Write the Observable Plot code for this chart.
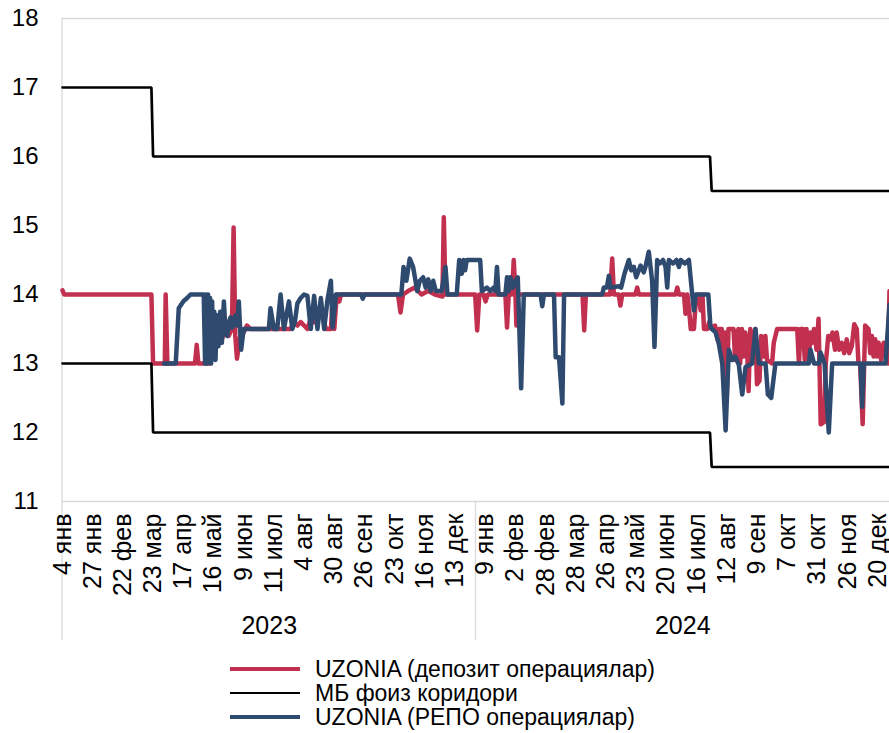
<!DOCTYPE html>
<html>
<head>
<meta charset="utf-8">
<script src="https://cdn.jsdelivr.net/npm/d3@7"></script>
<script src="https://cdn.jsdelivr.net/npm/@observablehq/plot@0.6"></script>
<style>
  html, body { margin: 0; padding: 0; background: #fff; }
  #wrap { width: 889px; height: 733px; position: relative; overflow: hidden; font-family: "Liberation Sans", Arial, sans-serif; }
  #legend { position: absolute; left: 230px; top: 657px; font-size: 23px; line-height: 24px; color: #000; }
  .row { display: flex; align-items: center; height: 24px; white-space: nowrap; }
  .sw { width: 70px; margin-right: 15px; }
</style>
</head>
<body>
<div id="wrap">
  <div id="chart"></div>
  <div id="legend"></div>
</div>
<script>
// ---- Data (x = trading-day index from 4 Jan 2023) ----
const tickDays = [0,18,36,54,72,90,108,126,144,162,180,198,216,234,252,270,288,306,324,342,360,378,396,414,432,450,468,486];
const tickLabels = ["4 янв","27 янв","22 фев","23 мар","17 апр","16 май","9 июн","11 июл","4 авг","30 авг","26 сен","23 окт","16 ноя","13 дек",
                    "9 янв","2 фев","28 фев","28 мар","26 апр","23 май","20 июн","16 июл","12 авг","9 сен","7 окт","31 окт","26 ноя","20 дек"];
const yTicks = [11,12,13,14,15,16,17,18];
const yearLabels = ["2023","2024"];
const yearStart = [0, 246.5];
const yearEnd = [246.5, 493];

const corridorUpper = [[0,17],[53,17],[54,16],[386,16],[387,15.5],[493,15.5]];
const corridorLower = [[0,13],[53,13],[54,12],[386,12],[387,11.5],[493,11.5]];

const depositRate = [
[0,14.06],[1,14],[53,14],[54,13],[61,13],[61.5,14],[62.5,13],[79,13],[80,13.27],[81,13],[88,13],[89,13.5],[91,13.3],[93,13.5],[95,13.35],[97,13.5],[99,13.4],[101,13.5],[102,14.97],[103,13.4],[104,13.07],[106,13.4],[108,13.45],[110,13.55],[112,13.5],[136,13.5],[138,13.6],[140,13.55],[142,13.6],[144,13.55],[146,13.5],[148,13.65],[150,13.6],[152,13.7],[154,13.85],[156,13.6],[157,13.5],[160,13.5],[161,13.9],[162,13.5],[163.5,14],[165,13.9],[166,14],
[200,14],[201.5,13.74],[203,14],[206,14.05],[210,14.1],[214,14],[218,14.05],[222,14],[226.5,13.97],[227.3,15.12],[228.3,14],[246,14],[247.2,13.48],[248.5,14],[251,14],[252.2,13.9],[253.5,14],[264,14],[265,13.52],[266,14],[268,14],[269,14.5],[270,14],[270.6,13.55],[271.5,14],
[310,14],[311,13.48],[312,14],[326.5,14],[327.7,14.52],[328.7,14],[331.5,14],[332.6,13.84],[333.7,14],[341.5,14],[342.6,14.1],[343.6,14],[365.5,14],[366.5,14.1],[367.5,14],[370.5,14],[371.4,13.72],[372.5,14],[373.5,13.8],[374.5,13.5],[376.4,13.5],[377.5,13.9],[379.4,14],[380.4,13.77],[381.5,14],[382.4,13.5],[384.4,13.5],[385.5,13.6],[387,13.5],[389,13.55],[390.5,13.35],[391.5,13.5],[393,13.5],[394,12.9],[395,13.45],[396,12.5],[397,13.5],[400,13.5],[401,13.05],[402,13.45],[403,13.5],[404,13.0],[405,13.5],[406,13.1],[407,13.45],[408,13.3],[409,12.6],[410,13.5],[411.5,13.3],[413,13.5],[414,12.7],[415.5,12.75],[416.5,13.4],[418,13.1],[419,13.4],[420,13.05],[423,13.0],[424,13.3],[426,13.5],
[438,13.5],[439,13.0],[440,13.5],[441.5,13.5],[442.5,13.05],[443.5,13.5],[445,13.1],[446,13.45],[447,13.3],[448,13.5],[449.5,13.2],[450.7,13.65],[452,12.12],[454,12.15],[455,13.0],[456.5,13.4],[458,13.35],[459,13.45],[460.5,13.2],[461.5,13.45],[463,13.2],[464.5,13.3],[466,13.15],[467.5,13.35],[469,13.15],[470.5,13.25],[472,13.57],[473.5,13.5],[474.5,13.0],[475.5,13.0],[477,12.12],[478.5,13.55],[480.5,13.5],[481.5,13.15],[482.5,13.4],[483.5,13.1],[484.5,13.35],[485.5,13.1],[486.5,13.3],[488,13.05],[489.5,13.3],[491,13.1],[492,13.0],[493,14.05]
];

const repoRate = [
[60.5,13],[67.5,13],[69.3,13.8],[72,13.9],[74.3,13.95],[76.3,14],[84.2,14],[85,13],[85.6,14],[86.2,13],[86.8,14],[87.4,13.05],[88,13.95],[88.6,13],[89.2,13.9],[89.8,13.1],[90.5,13.75],[91.2,13.05],[92,13.7],[93,13.25],[94,13.75],[95,13.3],[96.2,13.9],[97.2,13.45],[98.2,13.4],[99.2,13.6],[100.2,13.67],[101.2,13.52],[102.2,13.6],[103.1,13.7],[104.1,13.55],[105.1,13.9],[106.5,13.2],[108,13.5],[123,13.5],[124,13.8],[126,13.5],[128,13.5],[130,14],[132,13.5],[135,13.9],[137,13.5],[138.5,13.6],[140,13.87],[142,13.95],[144,14],[146,13.98],[148,13.5],[150,13.98],[152,13.5],[154,13.95],[156,13.5],[158,13.93],[160,14.2],[161,13.52],[163,14],
[178,14],[179,13.94],[180,14],[202,14],[203.3,14.4],[205,14.2],[207,14.52],[209,14.4],[211.5,14.05],[213,14.2],[215,14.25],[216.5,14.1],[218,14.22],[219.5,14.05],[221,14.2],[222.5,14.05],[226,14.05],[228.3,14.4],[229.5,14],[235,14],[236.5,14.5],[238,14.3],[239,14.5],[240,14.35],[241,14.5],[249,14.5],[250,14.05],[253,14.1],[255,14.05],[257,14.1],[258,14.05],[259,14.4],[260,14.0],[264,14.0],[265,14.25],[266,14.05],[267,14.25],[268.5,14.1],[270,14.2],[271.4,14.25],[273.4,12.64],[275,14],[285,14],[286,13.83],[287,14],[293,14],[294,13.09],[296,13.09],[298,12.42],[299,14],
[321.7,14],[322.7,14.1],[324.5,14.1],[325.7,14.27],[326.7,14.1],[331.6,14.12],[333,14.1],[335,14.3],[337.6,14.5],[339,14.35],[340.6,14.4],[342,14.25],[344.6,14.42],[346.5,14.32],[347.5,14.4],[349.5,14.62],[351.5,14.2],[352.9,13.24],[354.5,14.5],[356,14.45],[358,14.5],[359.5,14.4],[360.5,14.1],[361.5,14.5],[364,14.45],[366,14.5],[367.5,14.4],[368.5,14.5],[371,14.45],[373.4,14.5],[375.4,14],[376.4,13.77],[377.5,14],[385,14],[386.3,13.52],[389.3,13.45],[391.3,13.28],[393.3,13.0],[395.3,12.03],[397.2,13.2],[399.2,13.05],[401,13.1],[403.2,12.98],[405.2,12.55],[407.2,12.95],[411.1,13.0],[413.1,13.5],[415.1,13.0],[419.1,13.0],[420.5,12.55],[422.5,12.5],[425,13.0],
[444.9,13],[445.9,13.2],[448,13],[451,13],[451.9,13.16],[454.3,13],[456.8,12.0],[458.8,13],[475.7,13],[476.7,12.37],[477.7,13],[490.6,13],[493,13.85]
];

const seriesNames = ["UZONIA (депозит операциялар)", "МБ фоиз коридори", "UZONIA (РЕПО операциялар)"];
const seriesColors = ["#c1304f", "#000000", "#2f4a6f"];
const seriesWidths = [4.5, 2.7, 4.5];

// ---- Chart ----
const font = "'Liberation Sans', Arial, sans-serif";
const frameGray = "#d9d9d9";
const plot = Plot.plot({
  width: 889,
  height: 650,
  marginLeft: 62,
  marginRight: 0,
  marginTop: 18,
  marginBottom: 149,
  style: {fontFamily: font, fontSize: "24px", color: "#000", background: "#fff", overflow: "visible"},
  x: {domain: [0, 493], axis: null},
  y: {domain: [11, 18], axis: null},
  marks: [
    Plot.ruleY([18], {stroke: frameGray, strokeWidth: 1.3}),
    Plot.ruleY([11], {stroke: frameGray, strokeWidth: 1.3}),
    Plot.axisY({ticks: yTicks, tickSize: 0, tickPadding: 24, tickFormat: d => String(d), fontSize: 24, label: null}),
    Plot.axisX({ticks: tickDays, tickSize: 0, tickPadding: 12, tickRotate: -90, fontSize: 25, label: null,
                tickFormat: d => tickLabels[tickDays.indexOf(d)]}),
    Plot.line(depositRate, {x: d => d[0], y: d => d[1], stroke: seriesColors[0], strokeWidth: seriesWidths[0], strokeLinejoin: "round", strokeLinecap: "round"}),
    Plot.line(corridorUpper, {x: d => d[0], y: d => d[1], stroke: seriesColors[1], strokeWidth: seriesWidths[1], strokeLinejoin: "miter"}),
    Plot.line(corridorLower, {x: d => d[0], y: d => d[1], stroke: seriesColors[1], strokeWidth: seriesWidths[1], strokeLinejoin: "miter"}),
    Plot.line(repoRate, {x: d => d[0], y: d => d[1], stroke: seriesColors[2], strokeWidth: seriesWidths[2], strokeLinejoin: "round", strokeLinecap: "round"}),
    Plot.text(yearLabels, {x: (d, i) => (yearStart[i] + yearEnd[i]) / 2, text: d => d, frameAnchor: "bottom", lineAnchor: "middle", dy: 124, fontSize: 25, fill: "#000"})
  ]
});
document.getElementById("chart").appendChild(plot);

// Year separators and left frame line extending under the tick labels
const xs = plot.scale("x");
const svg = d3.select(plot);
svg.insert("g", ":first-child")
  .selectAll("line")
  .data(yearStart)
  .join("line")
  .attr("x1", d => xs.apply(d)).attr("x2", d => xs.apply(d))
  .attr("y1", (d, i) => i === 0 ? 18 : 501).attr("y2", 640)
  .attr("stroke", frameGray).attr("stroke-width", 1.3);

// ---- Legend ----
const legend = d3.select("#legend");
seriesNames.forEach((name, i) => {
  const row = legend.append("div").attr("class", "row");
  row.append("div").attr("class", "sw")
    .style("height", "0px")
    .style("border-top", `${seriesWidths[i]}px solid ${seriesColors[i]}`);
  row.append("span").text(name);
});
</script>
</body>
</html>
